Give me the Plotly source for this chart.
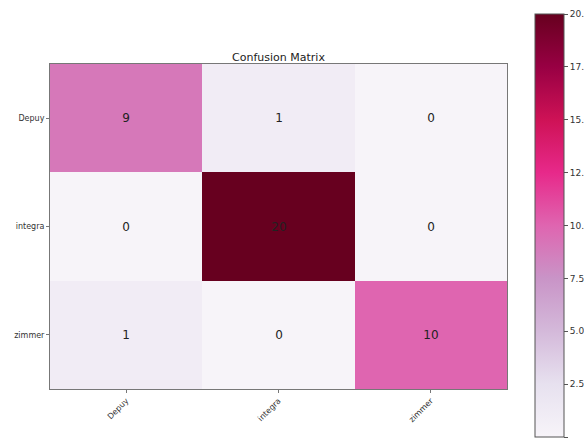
import plotly.graph_objects as go

labels = ["Depuy", "integra", "zimmer"]
z = [[9, 1, 0],
     [0, 20, 0],
     [1, 0, 10]]
cb_ticks = [0, 2.5, 5, 7.5, 10, 12.5, 15, 17.5, 20]
cb_text = ["0.0", "2.5", "5.0", "7.5", "10.0", "12.5", "15.0", "17.5", "20.0"]

W, H = 584, 439
px0, px1 = 50, 507
py0, py1 = 64, 389

fig = go.Figure(go.Heatmap(
    z=z, x=labels, y=labels,
    colorscale="PuRd", zmin=0, zmax=20,
    texttemplate="%{z}",
    textfont=dict(family="DejaVu Sans", size=12, color="#222222"),
    colorbar=dict(
        x=535 / W, xanchor="left", thickness=29, thicknessmode="pixels",
        y=(H - 437) / H, yanchor="bottom", len=423, lenmode="pixels",
        tickvals=cb_ticks, ticktext=cb_text,
        ticks="outside", ticklen=4, tickcolor="#555",
        tickfont=dict(family="DejaVu Sans", size=9, color="#333"),
        outlinecolor="#555", outlinewidth=1,
        xpad=0, ypad=0,
    ),
))

fig.update_layout(
    width=W, height=H,
    margin=dict(l=0, r=0, t=0, b=0, autoexpand=False),
    paper_bgcolor="white", plot_bgcolor="white",
    title=dict(text="Confusion Matrix", x=(px0 + px1) / 2 / W, xanchor="center",
               y=(H - 57) / H, yanchor="middle",
               font=dict(family="DejaVu Sans", size=11, color="#222")),
    xaxis=dict(domain=[px0 / W, px1 / W], showline=True, mirror=True,
               linecolor="#777", linewidth=1, ticks="outside", ticklen=3,
               tickcolor="#777", tickangle=-45,
               tickfont=dict(family="DejaVu Sans", size=8, color="#333")),
    yaxis=dict(domain=[(H - py1) / H, (H - py0) / H], autorange="reversed",
               showline=True, mirror=True, linecolor="#777", linewidth=1,
               ticks="outside", ticklen=3, tickcolor="#777",
               tickfont=dict(family="DejaVu Sans", size=8, color="#333")),
)

fig.write_html("out.html")
